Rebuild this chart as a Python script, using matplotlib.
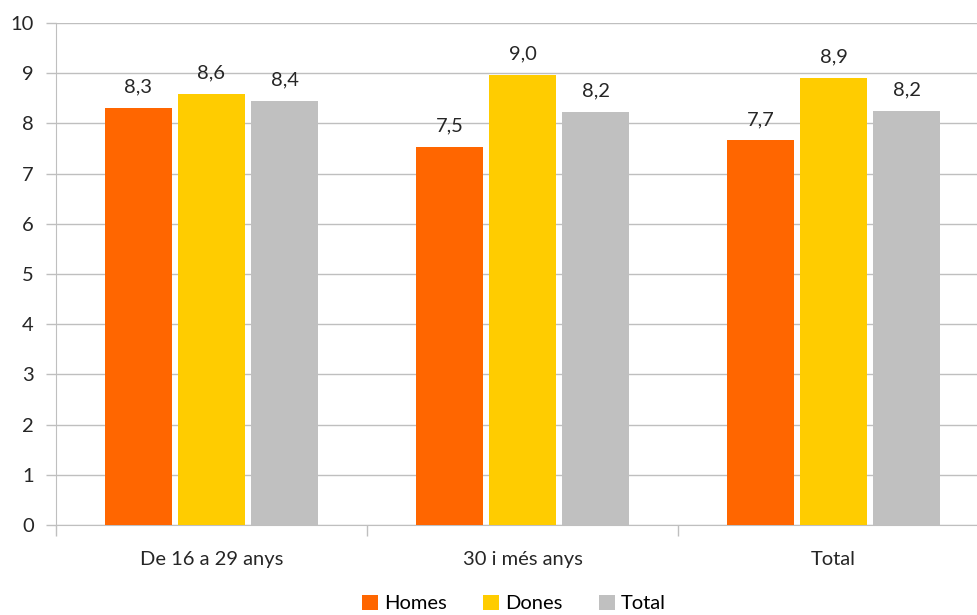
import numpy as np
import matplotlib.pyplot as plt
from matplotlib.patches import Patch

categories = ["De 16 a 29 anys", "30 i més anys", "Total"]
series_names = ["Homes", "Dones", "Total"]
homes = [8.31, 7.53, 7.66]
dones = [8.58, 8.96, 8.91]
total = [8.44, 8.22, 8.24]
colors = ["#FF6600", "#FFCC00", "#C0C0C0"]

plt.rcParams["font.family"] = ["Lato", "DejaVu Sans"]

fig = plt.figure(figsize=(9.77, 6.15), dpi=100)
ax = fig.add_axes([56 / 977, 1 - 525 / 615, (989 - 56) / 977, (525 - 23) / 615])

x = np.arange(len(categories))
width = 0.215
offset = 0.235
for i, (vals, col) in enumerate(zip([homes, dones, total], colors)):
    pos = x + (i - 1) * offset
    bars = ax.bar(pos, vals, width, color=col, zorder=3)
    for b, v in zip(bars, vals):
        ax.annotate(f"{v:.1f}".replace(".", ","),
                    (b.get_x() + b.get_width() / 2, v),
                    xytext=(0, 9), textcoords="offset points",
                    ha="center", va="bottom", fontsize=14.5, color="#262626")

ax.set_ylim(0, 10)
ax.set_xlim(-0.5, 2.5)
ax.set_yticks(range(0, 11))
ax.yaxis.grid(True, color="#BFBFBF", linewidth=1, zorder=0)
ax.set_axisbelow(True)

ax.set_xticks(x)
ax.set_xticklabels(categories, fontsize=14.5, color="#262626")
ax.set_xticks([-0.5, 0.5, 1.5, 2.5], minor=True)
ax.tick_params(axis="x", which="major", length=0, pad=19)
ax.tick_params(axis="x", which="minor", length=8, color="#BFBFBF", width=1)
ax.tick_params(axis="y", length=7, color="#BFBFBF", width=1,
               labelsize=14.5, labelcolor="#262626", pad=9)

for s in ["top", "right"]:
    ax.spines[s].set_visible(False)
ax.spines["left"].set_color("#BFBFBF")
ax.spines["bottom"].set_color("#BFBFBF")

handles = [Patch(facecolor=c, label=n) for c, n in zip(colors, series_names)]
fig.legend(handles=handles, loc="lower center", bbox_to_anchor=(0.526, -0.025),
           ncol=3, frameon=False, fontsize=14.5, handlelength=0.8,
           handleheight=0.8, handletextpad=0.3, columnspacing=1.8)

fig.savefig("out.png", dpi=100)
